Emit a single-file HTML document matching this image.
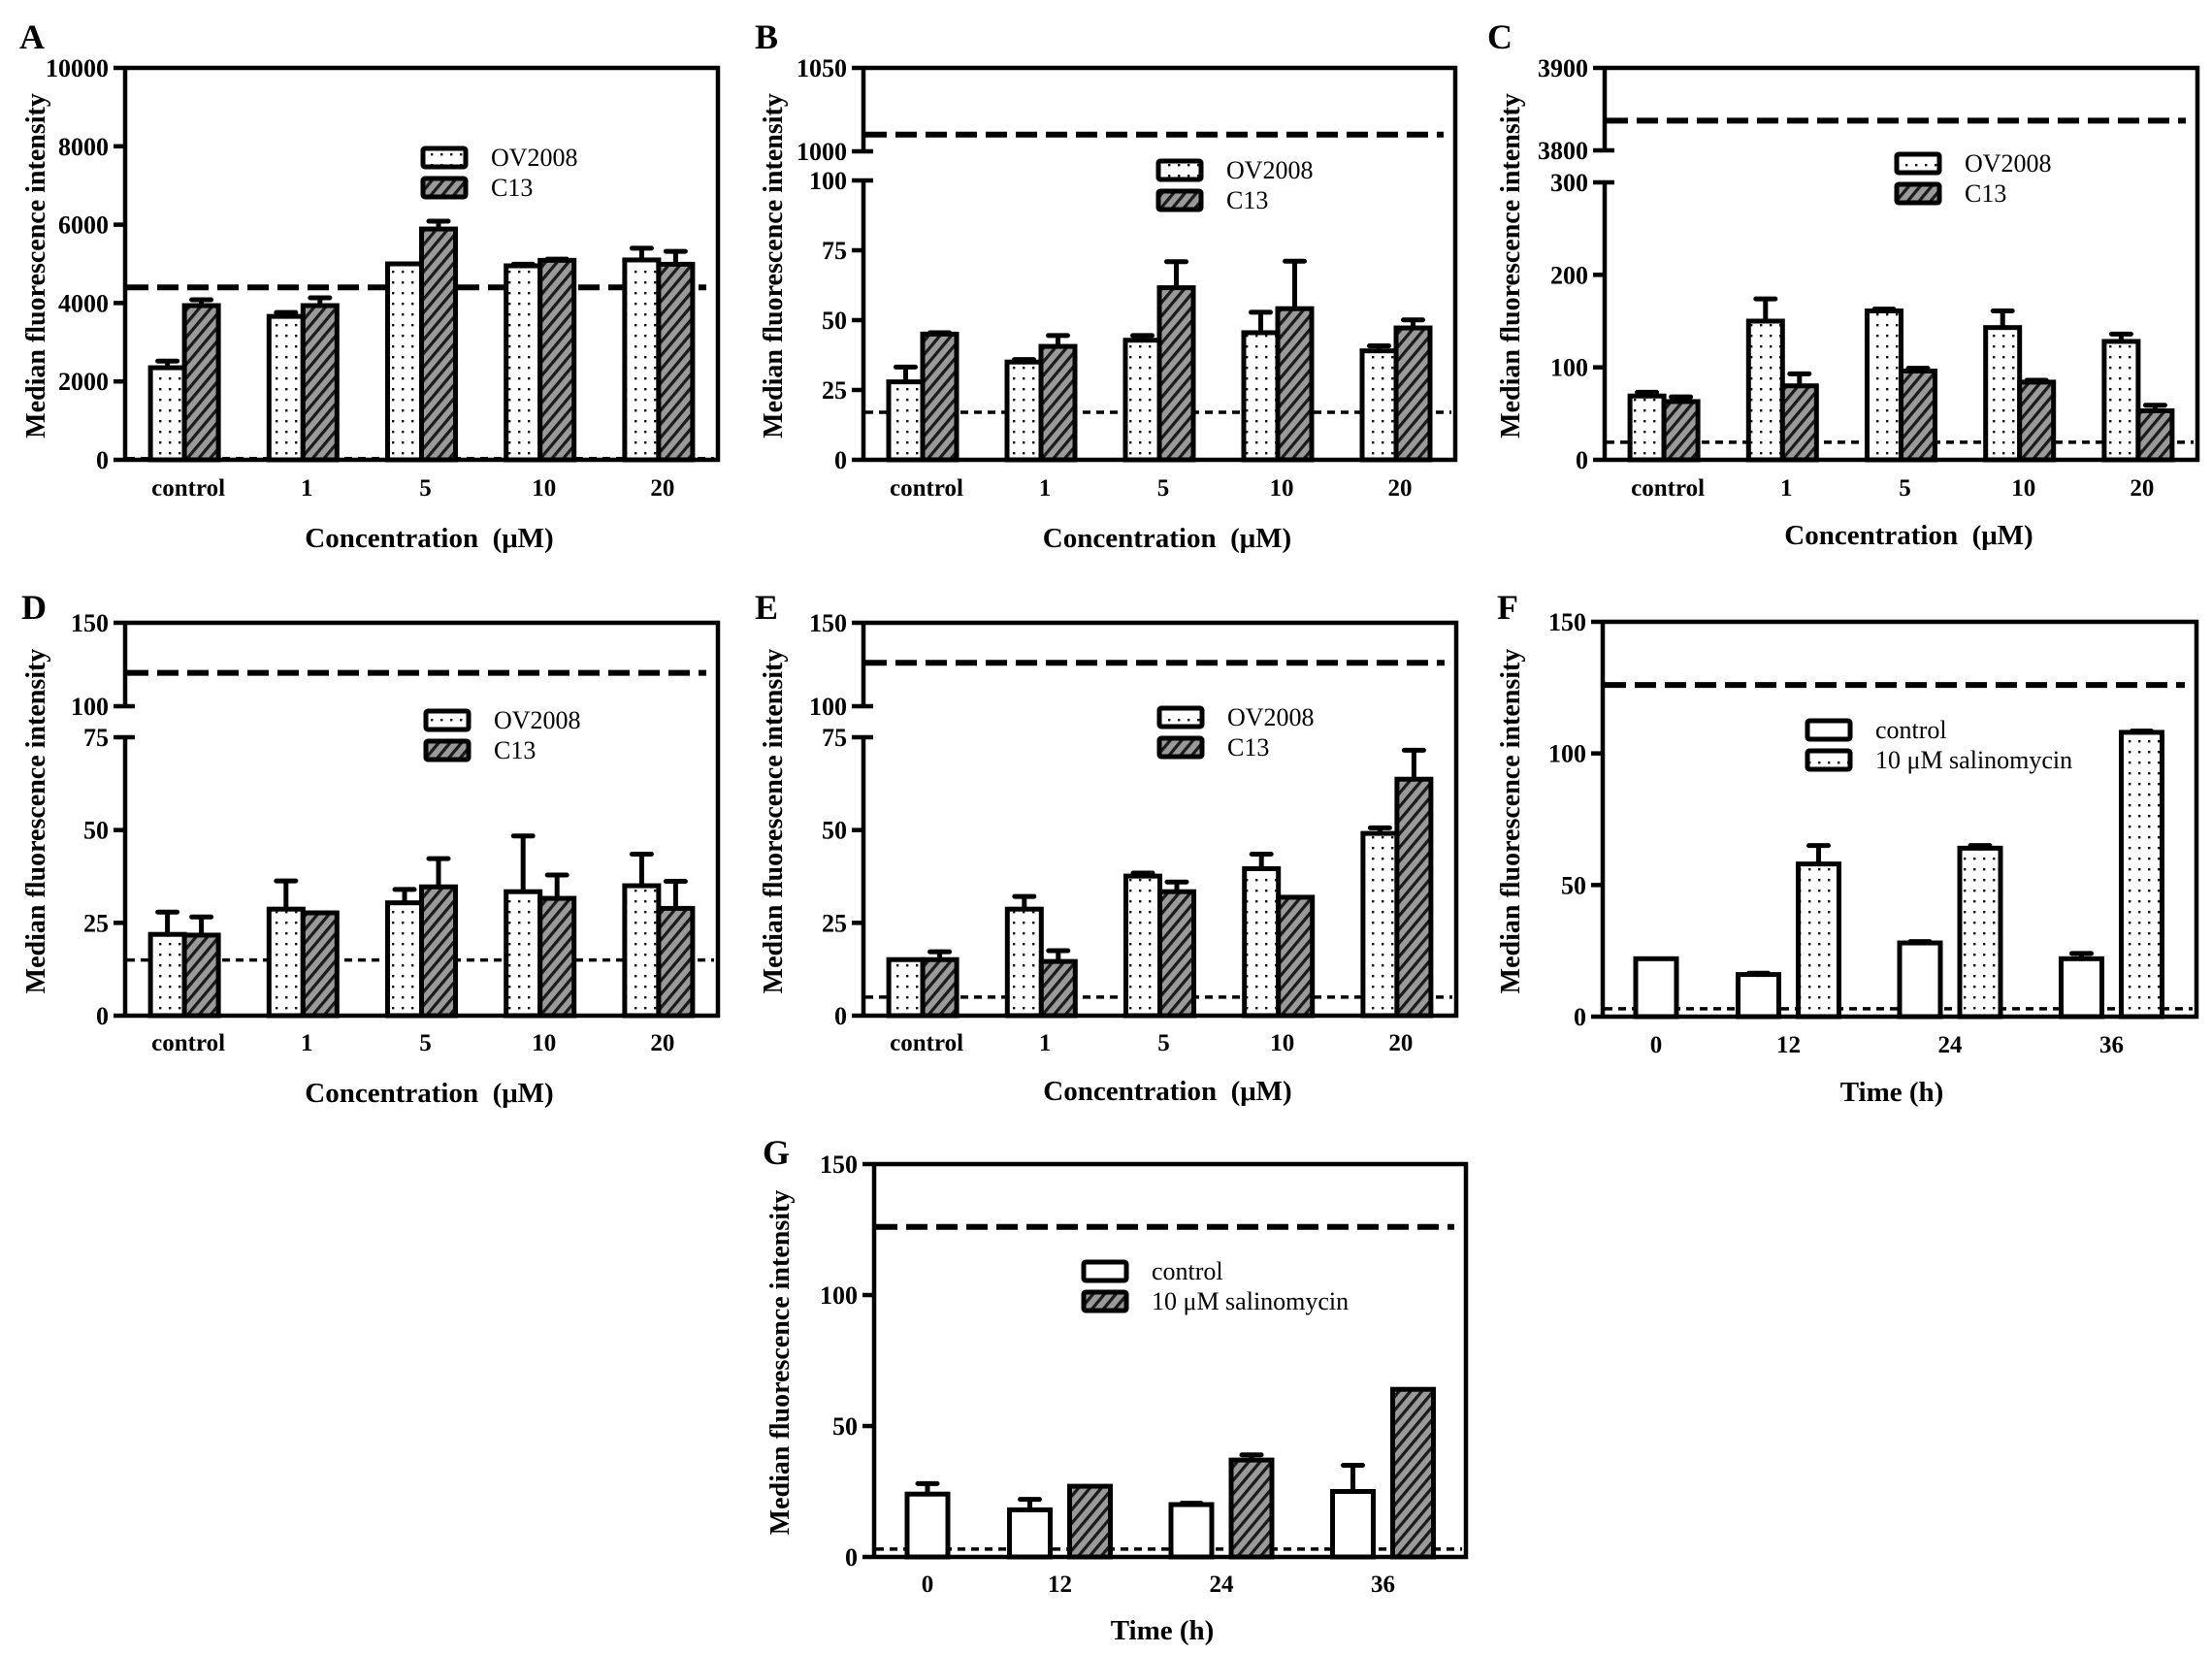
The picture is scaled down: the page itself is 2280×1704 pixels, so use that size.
<!DOCTYPE html>
<html><head><meta charset="utf-8">
<style>
html,body{margin:0;padding:0;background:#fff;}
svg{display:block;}
text{font-family:"Liberation Serif","DejaVu Serif",serif;}
</style></head>
<body>
<svg id="fig" xmlns="http://www.w3.org/2000/svg" width="2280" height="1704" viewBox="0 0 2280 1704">
<defs>
<pattern id="dots" width="10" height="11" patternUnits="userSpaceOnUse">
<rect width="10" height="11" fill="#fff"/><rect x="4" y="4" width="2.4" height="2.4" fill="#111"/>
</pattern>
<pattern id="hatch" width="9" height="9" patternUnits="userSpaceOnUse" patternTransform="rotate(40)">
<rect width="9" height="9" fill="#9a9a9a"/><rect x="0" y="0" width="3.2" height="9" fill="#1a1a1a"/>
</pattern>
</defs>
<rect width="2280" height="1704" fill="#fff"/>
</svg>
<script>
// ---- data ----
const concCats = ["control","1","5","10","20"];
const timeCats = ["0","12","24","36"];
// Panel A
const A_ov = [2350,3660,5000,4950,5100];
const A_ovErr = [170,100,0,40,300];
const A_c13 = [3935,3935,5890,5090,4990];
const A_c13Err = [150,200,200,30,330];
const A_ticks = [0,2000,4000,6000,8000,10000];
const A_ref = [4400,30];
// Panel B
const B_ov = [27.9,35,42.8,45.5,39];
const B_ovErr = [5.3,0.9,1.7,7.3,1.8];
const B_c13 = [45,40.6,61.6,54.1,47.2];
const B_c13Err = [0.5,3.9,9.3,17,2.9];
const B_ticks = [0,25,50,75,100,1000,1050];
const B_ref = [1010,17];
// Panel C
const C_ov = [69,150,161,143,128];
const C_ovErr = [4,24,2,18,8];
const C_c13 = [63,80,96,84,53];
const C_c13Err = [5,13,3,2,6];
const C_ticks = [0,100,200,300,3800,3900];
const C_ref = [3836,19];
// Panel D
const D_ov = [21.9,28.7,30.4,33.4,35];
const D_ovErr = [6,7.6,3.6,15,8.5];
const D_c13 = [21.7,27.7,34.7,31.6,28.9];
const D_c13Err = [4.9,0.3,7.6,6.3,7.3];
const D_ticks = [0,25,50,75,100,150];
const D_ref = [120,15];
// Panel E
const E_ov = [15.1,28.7,37.6,39.6,49.1];
const E_ovErr = [0,3.4,0.8,3.9,1.5];
const E_c13 = [15.1,14.6,33.4,31.9,63.7];
const E_c13Err = [2.1,2.9,2.6,0,7.8];
const E_ticks = [0,25,50,75,100,150];
const E_ref = [126,5];
// Panel F
const F_ctrl = [22,16,28,22];
const F_ctrlErr = [0,0.5,0.5,2];
const F_sal = [null,58,64,108];
const F_salErr = [0,7,1,0.5];
const F_ticks = [0,50,100,150];
const F_ref = [126,3];
// Panel G
const G_ctrl = [24,18,20,25];
const G_ctrlErr = [4,4,0.5,10];
const G_sal = [null,27,37,64];
const G_salErr = [0,0,2,0];
const G_ticks = [0,50,100,150];
const G_ref = [126,3];

const NS = "http://www.w3.org/2000/svg";
const svg = document.getElementById('fig');
function mk(tag, attrs, parent, txt){
  const e = document.createElementNS(NS, tag);
  for (const k in attrs) e.setAttribute(k, attrs[k]);
  if (txt !== undefined) e.textContent = txt;
  (parent||svg).appendChild(e);
  return e;
}
// segmented y scale: segs = [[d0,d1,r0,r1],...]
function makeY(segs){
  return function(v){
    for (const s of segs){ if (v>=s[0] && v<=s[1]) return s[2] + (v-s[0])/(s[1]-s[0])*(s[3]-s[2]); }
    const s = v < segs[0][0] ? segs[0] : segs[segs.length-1];
    return s[2] + (v-s[0])/(s[1]-s[0])*(s[3]-s[2]);
  };
}

function panel(p){
  const g = mk('g', {});
  
  
  const y = makeY(p.segs);
  const L = p.left, R = p.right, T = p.top, B = p.bottom;
  // letter
  const lt = mk('text', {x:p.lx, y:p.ly, 'font-size':36, 'font-weight':'bold'}, g, p.letter);
  
  
  // reference lines (behind bars)
  const dl = mk('line', {x1:L+2, x2:R-12, y1:y(p.ref[0]), y2:y(p.ref[0]), stroke:'#000', 'stroke-width':6, 'stroke-dasharray':'22 9'}, g);
  
  
  const dt = mk('line', {x1:L+2, x2:R-4, y1:y(p.ref[1]), y2:y(p.ref[1]), stroke:'#000', 'stroke-width':3.5, 'stroke-dasharray':'8 6'}, g);
  
  
  // bars
  const n = p.cats.length;
  for (let i=0;i<n;i++){
    let c, bw, pos;
    if (p.kind === 'conc'){ c = L + (i+0.5)*(R-L)/n; bw = 35; pos = [c-bw, c]; }
    else { c = (i===0) ? L+55 : L+25+166.5*i; bw = 42; pos = (p.s2[i]===null) ? [c-bw/2, null] : [c-31-bw/2, c+31-bw/2]; }
    const series = [[p.s1,p.e1,p.f1,p.n1],[p.s2,p.e2,p.f2,p.n2]];
    series.forEach((s,k)=>{
      const v = s[0][i]; if (v===null || pos[k]===null) return;
      const x = pos[k], yt = y(v);
      const r = mk('rect', {x:x, y:yt, width:bw, height:B-yt, fill:s[2], stroke:'#000', 'stroke-width':5}, g);
      
      
      const e = s[1][i];
      if (e > 0.3){
        const ye = y(v+e);
        const eb = mk('path', {d:'M'+(x+bw/2)+' '+yt+' V'+ye+' M'+(x+bw/2-10)+' '+ye+' H'+(x+bw/2+10), stroke:'#000', 'stroke-width':5, 'stroke-linecap':'round', fill:'none'}, g);
        
        
      }
    });
    // x tick label
    const xl = (p.kind==='conc') ? c+4 : (i===0 ? c : c);
    const tl = mk('text', {x:xl, y:p.xty, 'font-size':25, 'font-weight':'bold', 'text-anchor':'middle'}, g, p.cats[i]);
    
    
  }
  // frame
  const fr = mk('path', {d:'M'+L+' '+T+' H'+R+' V'+B+' H'+L, stroke:'#000', 'stroke-width':4.5, fill:'none'}, g);
  
  
  // left axis (possibly broken)
  if (p.brk){
    mk('line', {x1:L, x2:L, y1:T, y2:y(p.brk[1]), stroke:'#000', 'stroke-width':4.5}, g);
    mk('line', {x1:L, x2:L, y1:y(p.brk[0]), y2:B+2, stroke:'#000', 'stroke-width':4.5}, g);
  } else {
    mk('line', {x1:L, x2:L, y1:T, y2:B+2, stroke:'#000', 'stroke-width':4.5}, g);
  }
  // ticks
  p.ticks.forEach(t=>{
    const yy = y(t);
    const isBrk = p.brk && (t===p.brk[0] || t===p.brk[1]);
    mk('line', {x1:L-12, x2: isBrk ? L+10 : L, y1:yy, y2:yy, stroke:'#000', 'stroke-width':4.5}, g);
    const tx = mk('text', {x:L-17, y:yy+9, 'font-size':26, 'font-weight':'bold', 'text-anchor':'end'}, g, String(t));
    
    
  });
  // y title
  const yt = mk('text', {x:0, y:0, 'font-size':28, 'font-weight':'bold', 'text-anchor':'middle', transform:'translate('+(p.ytx)+','+(p.yty)+') rotate(-90)'}, g, 'Median fluorescence intensity');
  
  
  // x title
  const xt = mk('text', {x:p.xtx, y:p.xtitley, 'font-size':29, 'font-weight':'bold', 'text-anchor':'middle'}, g, p.xtitle);
  
  
  // legend
  const lg = mk('g', {}, g);
  
  
  [[p.f1,p.n1lab],[p.f2,p.n2lab]].forEach((s,k)=>{
    const by = p.legy + k*31;
    mk('rect', {x:p.legx, y:by, width:44, height:19, fill:s[0], stroke:'#000', 'stroke-width':5, rx:2}, lg);
    const lt2 = mk('text', {x:p.legx+70, y:by+18, 'font-size':26}, lg, s[1]);
    
    
  });
}

const concTitle = 'Concentration\u00a0 (\u03bcM)';
function concPanel(letter, left, right, top, bottom, segs, brk, ticks, ov, ovE, c13, c13E, ref, lx, ly, ytx, legx, legy, xty, xtitley){
  panel({letter, kind:'conc', left, right, top, bottom, segs, brk, ticks, cats:concCats,
    s1:ov, e1:ovE, s2:c13, e2:c13E, f1:'url(#dots)', f2:'url(#hatch)', n1:'ov2008', n2:'c13', n1lab:'OV2008', n2lab:'C13',
    ref, lx, ly, ytx, yty:(top+bottom)/2+2, xtx:(left+right)/2+8, xty, xtitley, xtitle:concTitle, legx, legy});
}

concPanel('A',129,740,70,474,[[0,10000,474,70]],null,A_ticks,A_ov,A_ovErr,A_c13,A_c13Err,A_ref,20,50,46,436,153,511,564);
concPanel('B',890,1500,70,474,[[0,100,474,186],[1000,1050,156,70]],[100,1000],B_ticks,B_ov,B_ovErr,B_c13,B_c13Err,B_ref,778,50,806,1194,166,511,564);
concPanel('C',1654,2265,70,474,[[0,300,474,188],[3800,3900,155,70]],[300,3800],C_ticks,C_ov,C_ovErr,C_c13,C_c13Err,C_ref,1533,50,1566,1955,159,511,561);
concPanel('D',129,740,642,1047,[[0,75,1047,760],[100,150,728,642]],[75,100],D_ticks,D_ov,D_ovErr,D_c13,D_c13Err,D_ref,22,638,46,439,733,1083,1136);
concPanel('E',890,1501,642,1047,[[0,75,1047,760],[100,150,728,642]],[75,100],E_ticks,E_ov,E_ovErr,E_c13,E_c13Err,E_ref,778,638,806,1195,730,1083,1134);

function timePanel(letter, left, right, top, bottom, ticks, ctrl, ctrlE, sal, salE, salFill, ref, lx, ly, ytx, legx, legy, xty, xtitley){
  panel({letter, kind:'time', left, right, top, bottom, segs:[[0,150,bottom,top]], brk:null, ticks, cats:timeCats,
    s1:ctrl, e1:ctrlE, s2:sal, e2:salE, f1:'#fff', f2:salFill, n1:'control', n2:'salinomycin', n1lab:'control', n2lab:'10\u00a0\u03bcM salinomycin',
    ref, lx, ly, ytx, yty:(top+bottom)/2+2, xtx:(left+right)/2-8, xty, xtitley, xtitle:'Time (h)', legx, legy});
}
timePanel('F',1652,2264,641,1048,F_ticks,F_ctrl,F_ctrlErr,F_sal,F_salErr,'url(#dots)',F_ref,1543,638,1566,1863,743,1085,1135);
timePanel('G',901,1511,1200,1605,G_ticks,G_ctrl,G_ctrlErr,G_sal,G_salErr,'url(#hatch)',G_ref,786,1200,813,1117,1301,1641,1690);
</script>
</body></html>
